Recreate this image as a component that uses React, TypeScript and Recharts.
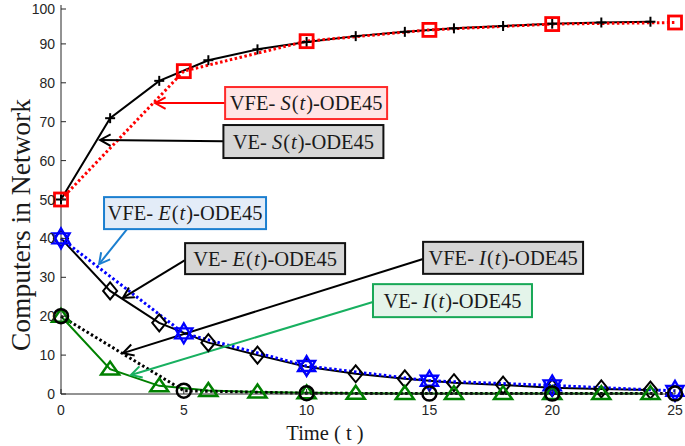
import React from "react";
import { LineChart, Line, XAxis, YAxis, ReferenceLine, ReferenceDot } from "recharts";

const tVE = [0, 2, 4, 6, 8, 10, 12, 14, 16, 18, 20, 22, 24];
const veS = [50, 70.9, 80.5, 85.8, 88.6, 90.5, 92.0, 93.1, 94.0, 94.6, 95.2, 95.5, 95.7];
const veE = [40, 26.5, 18.3, 13.2, 10.0, 7.0, 5.2, 3.9, 2.9, 2.3, 1.6, 1.3, 1.0];
const veI = [20, 6.4, 2.1, 0.9, 0.5, 0.3, 0.2, 0.15, 0.1, 0.1, 0.1, 0.1, 0.1];

const tVFE = [0, 5, 10, 15, 20, 25];
const vfeS = [50, 83.0, 90.7, 93.6, 95.1, 95.5];
const vfeE = [40, 15.6, 7.2, 3.4, 2.2, 0.8];
const vfeI = [20, 0.85, 0.2, 0.1, 0.1, 0.1];

const xTicks = [0, 5, 10, 15, 20, 25];
const yTicks = [0, 10, 20, 30, 40, 50, 60, 70, 80, 90, 100];

// annotation boxes: center (data coords), size, label parts, colours
const boxLabels = ["VFE- ", "VE- ", "VFE- ", "VE- ", "VFE- ", "VE- "];
const boxVars = ["S", "S", "E", "E", "I", "I"];
const boxX = [9.98, 9.87, 5.05, 8.31, 18.0, 15.94];
const boxY = [74.8, 64.9, 46.5, 34.8, 35.0, 24.0];
const boxW = [162, 160, 162, 160, 160, 159];
const boxH = [32, 33, 32, 31, 32, 33];
const boxFill = ["#ffe4e4", "#d6d6d6", "#e3ecf8", "#d6d6d6", "#d6d6d6", "#e4f4ea"];
const boxStroke = ["#ff2a2a", "#111111", "#1b7fd0", "#111111", "#111111", "#18a857"];

// arrows: from (x1,y1) to tip (x2,y2) in data coords
const arrX1 = [6.68, 6.6, 2.73, 5.05, 14.74, 12.7];
const arrY1 = [74.8, 65.0, 42.7, 34.4, 34.7, 23.65];
const arrX2 = [3.83, 1.59, 1.55, 2.52, 2.52, 2.85];
const arrY2 = [74.8, 65.3, 33.4, 24.7, 10.5, 4.9];
const arrColor = ["#ff0000", "#000000", "#1b7fd0", "#000000", "#000000", "#18b060"];

const veData = tVE.map((t, i) => ({ t, S: veS[i], E: veE[i], I: veI[i] }));
const vfeData = tVFE.map((t, i) => ({ t, S: vfeS[i], E: vfeE[i], I: vfeI[i] }));

const AX = "#262626";
const SANS = "'Liberation Sans', Arial, sans-serif";
const SERIF = "'Liberation Serif', 'Times New Roman', serif";

const BottomTick = (p: any) => (
  <g>
    <line x1={p.x} y1={p.y} x2={p.x} y2={p.y - 5} stroke={AX} strokeWidth={1} />
    <text x={p.x} y={p.y + 21} textAnchor="middle" fontFamily={SANS} fontSize={14} fill={AX}>
      {p.payload.value}
    </text>
  </g>
);
const LeftTick = (p: any) => (
  <g>
    <line x1={p.x} y1={p.y} x2={p.x + 5} y2={p.y} stroke={AX} strokeWidth={1} />
    <text x={p.x - 6} y={p.y + 5} textAnchor="end" fontFamily={SANS} fontSize={14} fill={AX}>
      {p.payload.value}
    </text>
  </g>
);
const TopTick = (p: any) => (
  <line x1={p.x} y1={p.y} x2={p.x} y2={p.y + 5} stroke={AX} strokeWidth={1} />
);
const RightTick = (p: any) => (
  <line x1={p.x} y1={p.y} x2={p.x - 5} y2={p.y} stroke={AX} strokeWidth={1} />
);

const plusDot = (p: any) => (
  <g key={"p" + p.index}>
    <line x1={p.cx - 5} y1={p.cy} x2={p.cx + 5} y2={p.cy} stroke="#000" strokeWidth={2} />
    <line x1={p.cx} y1={p.cy - 5} x2={p.cx} y2={p.cy + 5} stroke="#000" strokeWidth={2} />
  </g>
);
const squareDot = (p: any) => (
  <rect key={"s" + p.index} x={p.cx - 6.5} y={p.cy - 6.5} width={13} height={13} fill="none" stroke="#ff0000" strokeWidth={2.8} />
);
const diamondDot = (p: any) => (
  <path key={"d" + p.index}
    d={`M${p.cx},${p.cy - 8.5} L${p.cx + 7},${p.cy} L${p.cx},${p.cy + 8.5} L${p.cx - 7},${p.cy} Z`}
    fill="none" stroke="#000" strokeWidth={2} />
);
const hexDot = (p: any) => {
  const R = 10;
  const tri = (a0: number) =>
    [0, 1, 2].map((k) => {
      const a = ((a0 + k * 120) * Math.PI) / 180;
      return `${p.cx + R * Math.cos(a)},${p.cy + R * Math.sin(a)}`;
    }).join(" ");
  return (
    <g key={"h" + p.index}>
      <polygon points={tri(-90)} fill="none" stroke="#0000ff" strokeWidth={2.3} />
      <polygon points={tri(90)} fill="none" stroke="#0000ff" strokeWidth={2.3} />
    </g>
  );
};
const circleDot = (p: any) => (
  <circle key={"c" + p.index} cx={p.cx} cy={p.cy} r={7} fill="none" stroke="#000" strokeWidth={2.5} />
);
const triDot = (p: any) => (
  <path key={"t" + p.index}
    d={`M${p.cx},${p.cy - 7.5} L${p.cx + 9},${p.cy + 5.5} L${p.cx - 9},${p.cy + 5.5} Z`}
    fill="none" stroke="#008000" strokeWidth={2.5} />
);

const makeArrow = (color: string) => (p: any) => {
  const { x1, y1, x2, y2 } = p;
  const ang = Math.atan2(y2 - y1, x2 - x1);
  const L = 12;
  const s = 0.5;
  const ax = x2 - L * Math.cos(ang - s);
  const ay = y2 - L * Math.sin(ang - s);
  const bx = x2 - L * Math.cos(ang + s);
  const by = y2 - L * Math.sin(ang + s);
  return (
    <g>
      <line x1={x1} y1={y1} x2={x2} y2={y2} stroke={color} strokeWidth={2} />
      <polyline points={`${ax},${ay} ${x2},${y2} ${bx},${by}`} fill="none" stroke={color} strokeWidth={2} />
    </g>
  );
};

const makeBox = (i: number) => (p: any) => {
  const w = boxW[i];
  const h = boxH[i];
  return (
    <g>
      <rect x={p.cx - w / 2} y={p.cy - h / 2} width={w} height={h} fill={boxFill[i]} stroke={boxStroke[i]} strokeWidth={2} />
      <text x={p.cx} y={p.cy + 7} textAnchor="middle" fontFamily={SERIF} fontSize={20.5} fill="#1a1a1a">
        <tspan>{boxLabels[i]}</tspan>
        <tspan fontStyle="italic">{boxVars[i]}</tspan>
        <tspan dx={1}>(</tspan>
        <tspan fontStyle="italic" dx={1}>t</tspan>
        <tspan dx={1}>)-ODE45</tspan>
      </text>
    </g>
  );
};

export default function App() {
  return (
    <div style={{ position: "absolute", left: 0, top: 0, width: 685, height: 446, background: "#fff" }}>
      <LineChart width={685} height={446} margin={{ top: 5, right: 10, left: 16, bottom: 22 }}>
        <XAxis dataKey="t" type="number" domain={[0, 25]} ticks={xTicks} height={30}
          axisLine={{ stroke: AX }} tickLine={false} tickSize={0} tickMargin={0} tick={<BottomTick />} />
        <XAxis xAxisId="top" orientation="top" type="number" domain={[0, 25]} ticks={xTicks} height={0}
          axisLine={{ stroke: AX }} tickLine={false} tickSize={0} tickMargin={0} tick={<TopTick />} />
        <YAxis type="number" domain={[0, 100]} ticks={yTicks} width={45}
          axisLine={{ stroke: AX }} tickLine={false} tickSize={0} tickMargin={0} tick={<LeftTick />} />
        <YAxis yAxisId="right" orientation="right" type="number" domain={[0, 100]} ticks={yTicks} width={0}
          axisLine={{ stroke: AX }} tickLine={false} tickSize={0} tickMargin={0} tick={<RightTick />} />

        <Line data={veData} dataKey="S" stroke="#000" strokeWidth={2} dot={plusDot} isAnimationActive={false} />
        <Line data={vfeData} dataKey="S" stroke="#ff0000" strokeWidth={3} strokeDasharray="2.5 2.5" dot={squareDot} isAnimationActive={false} />
        <Line data={veData} dataKey="E" stroke="#000" strokeWidth={2} dot={diamondDot} isAnimationActive={false} />
        <Line data={vfeData} dataKey="E" stroke="#0000ff" strokeWidth={3} strokeDasharray="2.5 2.5" dot={hexDot} isAnimationActive={false} />
        <Line data={veData} dataKey="I" stroke="#008000" strokeWidth={2} dot={triDot} isAnimationActive={false} />
        <Line data={vfeData} dataKey="I" stroke="#000" strokeWidth={3} strokeDasharray="2.5 2.5" dot={circleDot} isAnimationActive={false} />

        {arrX1.map((_, i) => (
          <ReferenceLine key={"a" + i}
            segment={[{ x: arrX1[i], y: arrY1[i] }, { x: arrX2[i], y: arrY2[i] }]}
            shape={makeArrow(arrColor[i])} />
        ))}
        {boxX.map((_, i) => (
          <ReferenceDot key={"b" + i} x={boxX[i]} y={boxY[i]} r={10} shape={makeBox(i)} />
        ))}
      </LineChart>
      <svg width={685} height={446} style={{ position: "absolute", left: 0, top: 0, pointerEvents: "none" }}>
        <text x={325} y={440} textAnchor="middle" fontFamily={SERIF} fontSize={20.5} fill="#1a1a1a">Time ( t )</text>
        <text transform="translate(30,225) rotate(-90)" textAnchor="middle" fontFamily={SERIF} fontSize={27.5} fill="#1a1a1a">
          Computers in Network
        </text>
      </svg>
    </div>
  );
}
